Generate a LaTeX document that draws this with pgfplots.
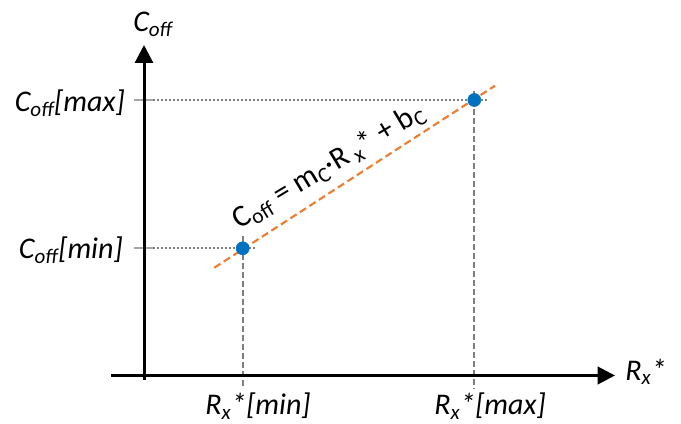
\documentclass[border=0pt]{standalone}
\usepackage{fontspec}
\setmainfont{Carlito}
\usepackage{pgfplots}
\pgfplotsset{compat=1.18}
\usetikzlibrary{arrows.meta}
\definecolor{cblue}{HTML}{0070C0}
\definecolor{corange}{HTML}{ED7D31}
\definecolor{cgray}{HTML}{7F7F7F}
\definecolor{lgray}{HTML}{A6A6A6}
\begin{document}
\begin{tikzpicture}
\begin{axis}[scale only axis, width=510.75pt, height=318pt,
  xmin=0, xmax=681, ymin=0, ymax=424, hide axis, clip=false]
% gray guide lines
\addplot[cgray, line width=1.5pt, dash pattern=on 1.5pt off 1.5pt] coordinates {(153,175.7) (257,175.7)};
\addplot[cgray, line width=1.5pt, dash pattern=on 1.5pt off 1.5pt] coordinates {(153,324) (489,324)};
\addplot[lgray, line width=1.3pt] coordinates {(134,175.7) (153,175.7)};
\addplot[lgray, line width=1.3pt] coordinates {(134,324) (153,324)};
\addplot[cgray, line width=1.5pt, dash pattern=on 4.5pt off 2.25pt] coordinates {(242.7,188) (242.7,36)};
\addplot[cgray, line width=1.5pt, dash pattern=on 4.5pt off 2.25pt] coordinates {(474.3,333.3) (474.3,36)};
% fitted line
\addplot[corange, line width=1.6pt, dash pattern=on 5.5pt off 3pt] coordinates {(214.3,156.3) (495,338.3)};
% points
\addplot[only marks, mark=*, mark size=4.9pt, cblue, mark options={draw=cblue, fill=cblue}] coordinates {(242.7,175.7) (474.3,324)};
% axes
\addplot[black, line width=2.25pt, -{Triangle[length=13.5pt,width=13.5pt]}] coordinates {(144,44) (144,379)};
\addplot[black, line width=2.25pt, -{Triangle[length=13pt,width=13pt]}] coordinates {(111,48.5) (615,48.5)};
% labels
\node[anchor=base west, font=\fontsize{22.5}{27}\selectfont\itshape, inner sep=0pt] at (axis cs:133,392) {C\textsubscript{off}};
\node[anchor=base east, font=\fontsize{22.5}{27}\selectfont\itshape, inner sep=0pt] at (axis cs:125,312) {C\textsubscript{off}[max]};
\node[anchor=base east, font=\fontsize{22.5}{27}\selectfont\itshape, inner sep=0pt] at (axis cs:123,165) {C\textsubscript{off}[min]};
\node[anchor=base west, font=\fontsize{22.5}{27}\selectfont\itshape, inner sep=0pt] at (axis cs:205,9) {R\textsubscript{x}*[min]};
\node[anchor=base west, font=\fontsize{22.5}{27}\selectfont\itshape, inner sep=0pt] at (axis cs:434,9) {R\textsubscript{x}*[max]};
\node[anchor=base west, font=\fontsize{22.5}{27}\selectfont\itshape, inner sep=0pt] at (axis cs:625,43.3) {R\textsubscript{x}*};
\node[anchor=base, rotate=31, font=\fontsize{23}{27}\selectfont, inner sep=0pt] at (axis cs:333,251) {C\textsubscript{off} = m\textsubscript{C}·R\,\textsubscript{x}* + b\textsubscript{C}};
\end{axis}
\pgfresetboundingbox
\path[use as bounding box] (current axis.south west) rectangle (current axis.north east);
\end{tikzpicture}
\end{document}
